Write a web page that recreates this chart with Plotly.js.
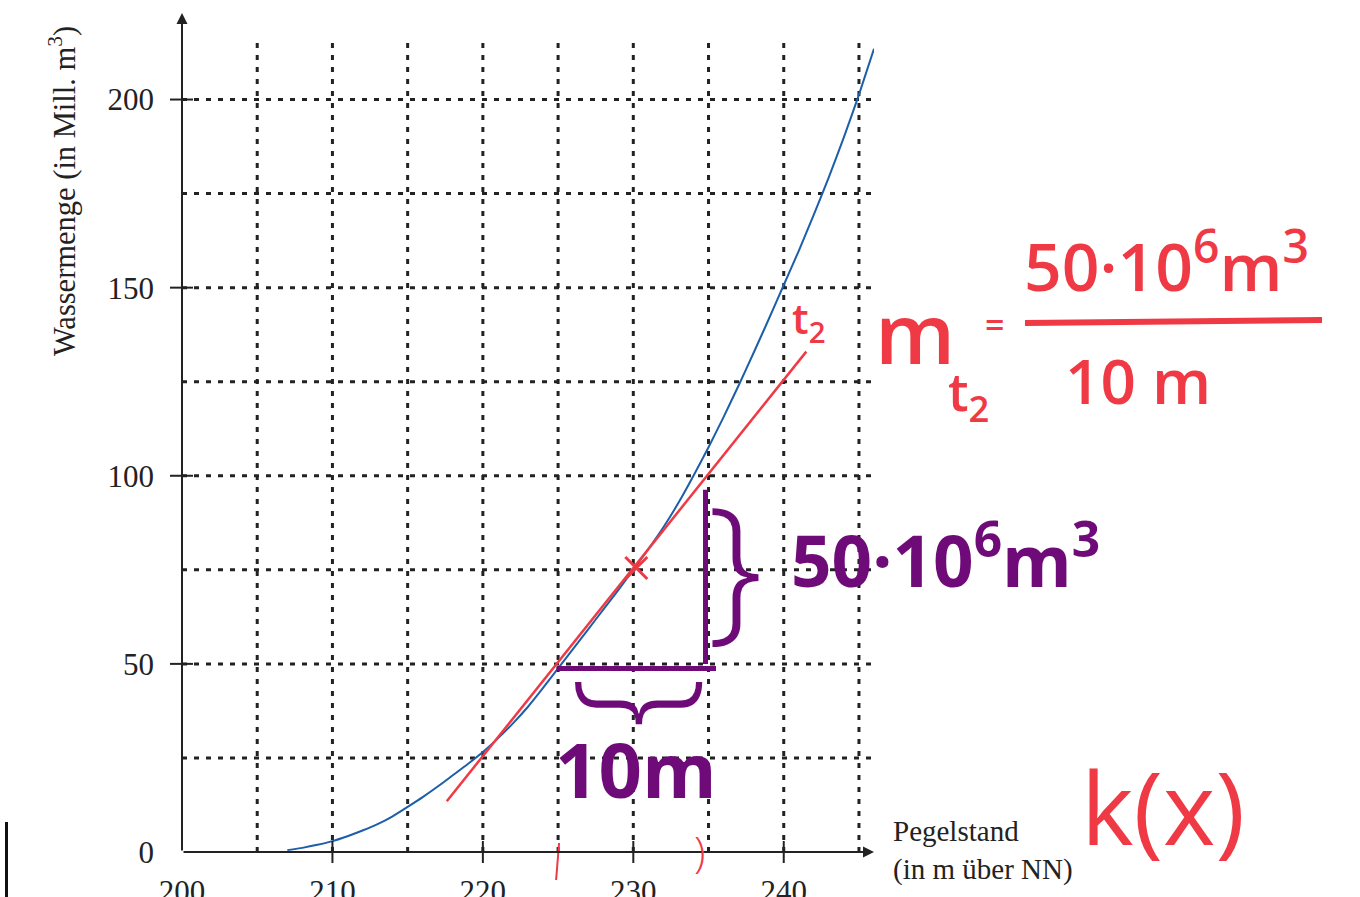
<!DOCTYPE html>
<html>
<head>
<meta charset="utf-8">
<script src="https://cdn.plot.ly/plotly-3.0.1.min.js"></script>
<style>html,body{margin:0;padding:0;background:#fff;}#chart{width:1360px;height:897px;}</style>
</head>
<body>
<div id="chart"></div>
<script>
// ---- data ----
const curveX = [207, 208, 209, 210, 211, 212, 213, 214, 215, 216, 217, 218, 219, 220, 221, 222, 223, 224, 225, 226, 227, 228, 229, 230, 231, 232, 233, 234, 235, 236, 237, 238, 239, 240, 241, 242, 243, 244, 245, 246];
const curveY = [0.5, 1.1, 1.9, 2.9, 4.2, 5.7, 7.4, 9.5, 12.0, 14.6, 17.4, 20.4, 23.4, 26.6, 30.2, 34.2, 38.6, 43.6, 48.8, 54.0, 59.2, 64.4, 69.6, 75.0, 80.5, 86.3, 92.8, 100.0, 107.6, 115.6, 124.0, 132.7, 141.6, 150.7, 159.8, 169.4, 179.4, 190.0, 201.3, 213.5];
const tangentX = [217.6, 241.5];
const tangentY = [13.5, 133.0];
const touchX = [230.2];
const touchY = [75.5];
const xTickLabels = [200, 210, 220, 230, 240];
const xTickMarks = [210, 220, 230, 240];
const yTickLabels = [0, 50, 100, 150, 200];
const yTickMarks = [50, 100, 150, 200];
const xGrid = [205, 210, 215, 220, 225, 230, 235, 240, 245];
const yGrid = [25, 50, 75, 100, 125, 150, 175, 200];
const stepX = [224.9, 235.5];   // purple horizontal stroke
const stepY = [48.8, 48.8];
const riseX = [234.8, 234.8];   // purple vertical stroke
const riseY = [50.0, 96.3];
const redMarksX = [225];        // red pencil mark on the x axis

const X0 = 200, X1 = 246, Y0 = 0, Y1 = 223;
const gridTopY = 216, gridRightX = 246;

const RED = '#ef3a45', PURPLE = '#6e0b78', BLUE = '#1c5ea9', INK = '#222222';
const SERIF = 'Liberation Serif, Times New Roman, serif';
const HAND = 'Open Sans, Noto Sans, sans-serif';

const M = {l: 182, r: 486, t: 13, b: 45};
const PW = 1360 - M.l - M.r, PH = 897 - M.t - M.b;
const px = v => (v - M.l) / PW;
const py = v => (897 - M.b - v) / PH;
const fx = v => (v - X0) / (X1 - X0);   // axis value -> paper fraction
const fy = v => (v - Y0) / (Y1 - Y0);

const traces = [
  {x: curveX, y: curveY, mode: 'lines', line: {color: BLUE, width: 2, shape: 'spline', smoothing: 0.5}, hoverinfo: 'skip', cliponaxis: false},
  {x: tangentX, y: tangentY, mode: 'lines', line: {color: RED, width: 2.5}, hoverinfo: 'skip'},
  {x: touchX, y: touchY, mode: 'markers', marker: {symbol: 'x-thin-open', size: 22, color: RED, line: {color: RED, width: 3}}, hoverinfo: 'skip'},
  {x: stepX, y: stepY, mode: 'lines', line: {color: PURPLE, width: 5}, hoverinfo: 'skip'},
  {x: riseX, y: riseY, mode: 'lines', line: {color: PURPLE, width: 5}, hoverinfo: 'skip'}
];

const shapes = [];
xGrid.forEach(g => shapes.push({type: 'line', xref: 'x', yref: 'y', x0: g, x1: g, y0: Y0, y1: gridTopY, layer: 'below', line: {color: INK, width: 3, dash: '5px,7px'}}));
yGrid.forEach(g => shapes.push({type: 'line', xref: 'x', yref: 'y', x0: X0, x1: gridRightX, y0: g, y1: g, layer: 'below', line: {color: INK, width: 3, dash: '5px,7px'}}));
xTickMarks.forEach(t => shapes.push({type: 'line', xref: 'paper', yref: 'paper', x0: fx(t), x1: fx(t), ysizemode: 'pixel', yanchor: fy(0), y0: -11, y1: 11, line: {color: INK, width: 2}}));
yTickMarks.forEach(t => shapes.push({type: 'line', xref: 'paper', yref: 'paper', y0: fy(t), y1: fy(t), xsizemode: 'pixel', xanchor: fx(X0), x0: -12, x1: 11, line: {color: INK, width: 2}}));
redMarksX.forEach(t => shapes.push({type: 'line', xref: 'paper', yref: 'paper', xsizemode: 'pixel', xanchor: fx(t), x0: 1, x1: -2, ysizemode: 'pixel', yanchor: fy(0), y0: 9, y1: -28, line: {color: RED, width: 2}}));
// fraction bar
shapes.push({type: 'line', xref: 'paper', yref: 'paper', x0: px(1025), x1: px(1322), y0: py(323), y1: py(320), line: {color: RED, width: 6}});
// black bar at left edge
shapes.push({type: 'line', xref: 'paper', yref: 'paper', x0: px(6.5), x1: px(6.5), y0: py(822), y1: py(900), line: {color: '#111', width: 3}});

const ann = [];
// axes with arrows
ann.push({x: X1, y: 0, ax: X0, ay: 0, xref: 'x', yref: 'y', axref: 'x', ayref: 'y', text: '', showarrow: true, arrowhead: 2, arrowsize: 1.1, arrowwidth: 2, arrowcolor: INK, standoff: 0, startstandoff: 0});
ann.push({x: X0, y: Y1, ax: X0, ay: 0, xref: 'x', yref: 'y', axref: 'x', ayref: 'y', text: '', showarrow: true, arrowhead: 2, arrowsize: 1.1, arrowwidth: 2, arrowcolor: INK, standoff: 0, startstandoff: 0});
// axis titles
ann.push({xref: 'paper', yref: 'paper', x: px(63), y: py(191), text: 'Wassermenge (in Mill. m<sup>3</sup>)', textangle: -90, showarrow: false, xanchor: 'center', yanchor: 'middle', font: {family: SERIF, size: 30.5, color: INK}});
ann.push({xref: 'paper', yref: 'paper', x: px(891), y: py(850), text: 'Pegelstand<br>(in m über NN)', align: 'left', showarrow: false, xanchor: 'left', yanchor: 'middle', font: {family: SERIF, size: 29, color: INK}});

function hand(text, cx, cy, size, color, weight, extra) {
  ann.push(Object.assign({xref: 'paper', yref: 'paper', x: px(cx), y: py(cy), text: text, showarrow: false, xanchor: 'center', yanchor: 'middle', font: {family: HAND, size: size, color: color, weight: weight || 600}}, extra || {}));
}
// red handwriting
hand('t<sub>2</sub>', 808, 320, 42, RED, 600);
hand('m', 915, 331, 84, RED, 600);
hand('t<sub>2</sub>', 968, 394, 52, RED, 600);
hand('=', 994, 324, 34, RED, 600);
hand('50·10<sup>6</sup>m<sup>3</sup>', 1166, 262, 66, RED, 600);
hand('10 m', 1138, 380, 62, RED, 600);
hand('k(x)', 1163, 806, 100, RED, 400);
hand(')', 699, 850, 42, RED, 300);
// purple handwriting
hand('}', 735, 560, 158, PURPLE, 300);
hand('}', 655, 702, 145, PURPLE, 300, {textangle: 90});
hand('10m', 636, 768, 76, PURPLE, 700);
hand('50·10<sup>6</sup>m<sup>3</sup>', 945, 556, 71, PURPLE, 700);

const layout = {
  width: 1360, height: 897,
  margin: M,
  paper_bgcolor: '#fff', plot_bgcolor: '#fff',
  showlegend: false,
  xaxis: {range: [X0, X1], tickmode: 'array', tickvals: xTickLabels, ticktext: xTickLabels.map(String), ticks: '', showgrid: false, zeroline: false, showline: false, ticklabelstandoff: 18, tickfont: {family: SERIF, size: 31, color: INK}, fixedrange: true},
  yaxis: {range: [Y0, Y1], tickmode: 'array', tickvals: yTickLabels, ticktext: yTickLabels.map(String), ticks: '', showgrid: false, zeroline: false, showline: false, ticklabelstandoff: 27, tickfont: {family: SERIF, size: 31, color: INK}, fixedrange: true},
  shapes: shapes,
  annotations: ann
};

Plotly.newPlot('chart', traces, layout, {staticPlot: true, displayModeBar: false});
</script>
</body>
</html>
